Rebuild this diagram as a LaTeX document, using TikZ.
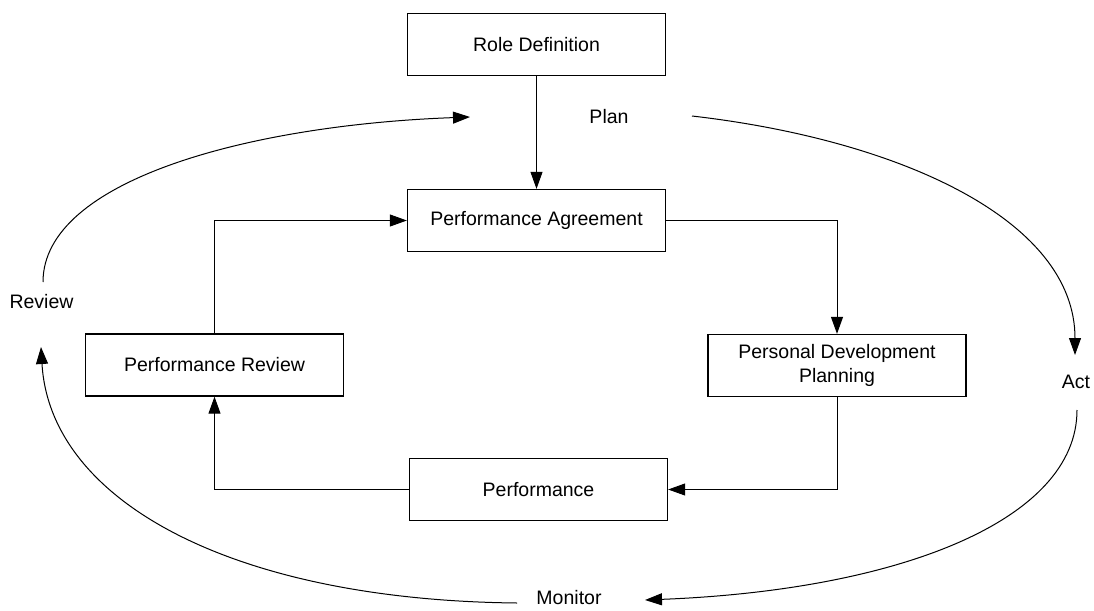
\documentclass[tikz,border=0pt]{standalone}
\usepackage{fontspec}
\setmainfont{Liberation Sans}
\usetikzlibrary{arrows.meta}

\begin{document}
\begin{tikzpicture}[x=10pt, y=-10pt,
    box/.style={draw=black, line width=1.3pt, minimum width=258pt, minimum height=62pt, align=center, inner sep=0pt, font=\fontsize{19.5}{24}\selectfont},
    phase/.style={font=\fontsize{19.5}{24}\selectfont, inner sep=0pt},
    link/.style={->, line width=1pt},
    >={Triangle[length=17pt, width=12pt]}]
    \useasboundingbox (0, 0) rectangle (109.4, 61);
    %Nodes
    \node[box] at (53.65, 4.45) (rd) {Role Definition};
    \node[box] at (53.65, 22.05) (pa) {Performance Agreement};
    \node[box] at (21.45, 36.5) (pr) {Performance Review};
    \node[box] at (83.7, 36.55) (pdp) {Personal Development\\Planning};
    \node[box] at (53.85, 48.95) (pf) {Performance};
    
    \node[phase] at (60.9, 11.7) (plan) {Plan};
    \node[phase] at (107.6, 38.2) (act) {Act};
    \node[phase] at (56.9, 59.8) (monitor) {Monitor};
    \node[phase] at (4.15, 30.2) (review) {Review};
    
    %Cycle ends
    \coordinate (revout) at (4.3, 28.2);
    \coordinate (planin) at (47.0, 11.7);
    \coordinate (planout) at (69.2, 11.6);
    \coordinate (actin) at (107.5, 35.5);
    \coordinate (actout) at (107.7, 41.0);
    \coordinate (monin) at (64.5, 60.0);
    \coordinate (monout) at (51.7, 60.3);
    \coordinate (revin) at (4.1, 34.7);
    
    %Lines
    \draw[link] (rd) -- (pa);
    \draw[link] (pa.east) -| (pdp.north);
    \draw[link] (pdp.south) |- (pf.east);
    \draw[link] (pf.west) -| (pr.south);
    \draw[link] (pr.north) |- (pa.west);
    
    \draw[link] (revout) .. controls (4.3, 18.0) and (25.0, 12.5) .. (planin);
    \draw[link] (planout) .. controls (90.0, 14.0) and (107.5, 22.0) .. (actin);
    \draw[link] (actout) .. controls (107.7, 52.0) and (90.0, 59.0) .. (monin);
    \draw[link] (monout) .. controls (23.0, 60.0) and (5.0, 50.0) .. (revin);
    
\end{tikzpicture}
\end{document}
